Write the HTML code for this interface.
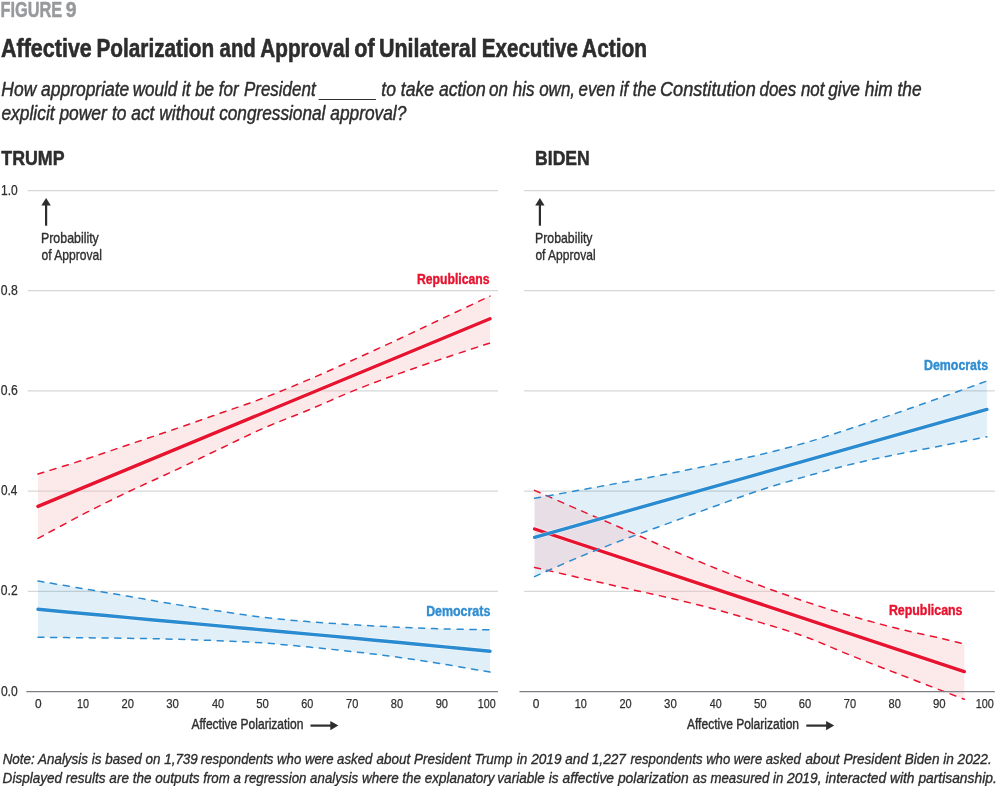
<!DOCTYPE html>
<html lang="en"><head><meta charset="utf-8"><title>Figure 9</title>
<style>html,body{margin:0;padding:0;background:#fff}svg{display:block}</style>
</head><body>
<svg width="1000" height="786" viewBox="0 0 1000 786" font-family="'Liberation Sans', sans-serif">
<rect width="1000" height="786" fill="#fff"/>
<line x1="27.7" x2="498" y1="190.5" y2="190.5" stroke="#d6d8d7" stroke-width="1.25"/>
<line x1="524.2" x2="994.8" y1="190.5" y2="190.5" stroke="#d6d8d7" stroke-width="1.25"/>
<line x1="27.7" x2="498" y1="290.7" y2="290.7" stroke="#d6d8d7" stroke-width="1.25"/>
<line x1="524.2" x2="994.8" y1="290.7" y2="290.7" stroke="#d6d8d7" stroke-width="1.25"/>
<line x1="27.7" x2="498" y1="390.9" y2="390.9" stroke="#d6d8d7" stroke-width="1.25"/>
<line x1="524.2" x2="994.8" y1="390.9" y2="390.9" stroke="#d6d8d7" stroke-width="1.25"/>
<line x1="27.7" x2="498" y1="491.1" y2="491.1" stroke="#d6d8d7" stroke-width="1.25"/>
<line x1="524.2" x2="994.8" y1="491.1" y2="491.1" stroke="#d6d8d7" stroke-width="1.25"/>
<line x1="27.7" x2="498" y1="591.3" y2="591.3" stroke="#d6d8d7" stroke-width="1.25"/>
<line x1="524.2" x2="994.8" y1="591.3" y2="591.3" stroke="#d6d8d7" stroke-width="1.25"/>
<path d="M38.00 581.00 C45.53 582.28 68.13 586.15 83.20 588.70 C98.27 591.25 113.33 593.73 128.40 596.30 C143.47 598.87 158.53 601.65 173.60 604.10 C188.67 606.55 203.73 608.78 218.80 611.00 C233.87 613.22 248.93 615.62 264.00 617.40 C279.07 619.18 294.13 620.47 309.20 621.70 C324.27 622.93 339.33 623.88 354.40 624.80 C369.47 625.72 384.53 626.52 399.60 627.20 C414.67 627.88 429.73 628.47 444.80 628.90 C459.87 629.33 482.47 629.65 490.00 629.80 L490.00 672.10 C482.47 670.82 459.87 666.85 444.80 664.40 C429.73 661.95 414.67 659.50 399.60 657.40 C384.53 655.30 369.47 653.52 354.40 651.80 C339.33 650.08 324.27 648.57 309.20 647.10 C294.13 645.63 279.07 644.07 264.00 643.00 C248.93 641.93 233.87 641.33 218.80 640.70 C203.73 640.07 188.67 639.60 173.60 639.20 C158.53 638.80 143.47 638.53 128.40 638.30 C113.33 638.07 98.27 637.97 83.20 637.80 C68.13 637.63 45.53 637.38 38.00 637.30 Z" fill="#2b8bd0" fill-opacity="0.14"/>
<path d="M38.00 474.00 C45.53 471.67 68.13 464.88 83.20 460.00 C98.27 455.12 113.33 449.78 128.40 444.70 C143.47 439.62 158.53 434.65 173.60 429.50 C188.67 424.35 203.73 419.08 218.80 413.80 C233.87 408.52 248.93 403.53 264.00 397.80 C279.07 392.07 294.13 385.80 309.20 379.40 C324.27 373.00 339.33 366.18 354.40 359.40 C369.47 352.62 384.53 345.70 399.60 338.70 C414.67 331.70 429.73 324.50 444.80 317.40 C459.87 310.30 482.47 299.65 490.00 296.10 L490.00 343.00 C482.47 345.48 459.87 352.83 444.80 357.90 C429.73 362.97 414.67 367.98 399.60 373.40 C384.53 378.82 369.47 384.35 354.40 390.40 C339.33 396.45 324.27 403.43 309.20 409.70 C294.13 415.97 279.07 421.38 264.00 428.00 C248.93 434.62 233.87 442.23 218.80 449.40 C203.73 456.57 188.67 463.93 173.60 471.00 C158.53 478.07 143.47 484.60 128.40 491.80 C113.33 499.00 98.27 506.43 83.20 514.20 C68.13 521.97 45.53 534.37 38.00 538.40 Z" fill="#f6bcbf" fill-opacity="0.33"/>
<path d="M534.60 498.30 C542.14 496.93 564.75 492.83 579.83 490.10 C594.91 487.37 609.98 484.68 625.06 481.90 C640.14 479.12 655.21 476.37 670.29 473.40 C685.37 470.43 700.44 467.25 715.52 464.10 C730.60 460.95 745.67 458.08 760.75 454.50 C775.83 450.92 790.90 446.97 805.98 442.60 C821.06 438.23 836.13 433.22 851.21 428.30 C866.29 423.38 881.36 418.28 896.44 413.10 C911.52 407.92 926.59 402.55 941.67 397.20 C956.75 391.85 979.36 383.70 986.90 381.00 L986.90 436.70 C979.36 438.22 956.75 442.85 941.67 445.80 C926.59 448.75 911.52 451.32 896.44 454.40 C881.36 457.48 866.29 460.63 851.21 464.30 C836.13 467.97 821.06 472.12 805.98 476.40 C790.90 480.68 775.83 485.07 760.75 490.00 C745.67 494.93 730.60 500.57 715.52 506.00 C700.44 511.43 685.37 517.08 670.29 522.60 C655.21 528.12 640.14 533.40 625.06 539.10 C609.98 544.80 594.91 550.55 579.83 556.80 C564.75 563.05 542.14 573.30 534.60 576.60 Z" fill="#2b8bd0" fill-opacity="0.14"/>
<path d="M534.60 490.40 C542.14 493.70 564.75 503.67 579.83 510.20 C594.91 516.73 609.98 523.05 625.06 529.60 C640.14 536.15 655.21 543.07 670.29 549.50 C685.37 555.93 700.44 562.15 715.52 568.20 C730.60 574.25 745.67 580.20 760.75 585.80 C775.83 591.40 790.90 596.77 805.98 601.80 C821.06 606.83 836.13 611.60 851.21 616.00 C866.29 620.40 881.36 624.45 896.44 628.20 C911.52 631.95 930.36 635.88 941.67 638.50 C952.98 641.12 960.52 643.00 964.28 643.90 L964.28 699.30 C960.52 697.85 952.98 694.95 941.67 690.60 C930.36 686.25 911.52 679.03 896.44 673.20 C881.36 667.37 866.29 661.63 851.21 655.60 C836.13 649.57 821.06 642.50 805.98 637.00 C790.90 631.50 775.83 627.20 760.75 622.60 C745.67 618.00 730.60 613.48 715.52 609.40 C700.44 605.32 685.37 601.65 670.29 598.10 C655.21 594.55 640.14 591.48 625.06 588.10 C609.98 584.72 594.91 581.25 579.83 577.80 C564.75 574.35 542.14 569.13 534.60 567.40 Z" fill="#f6bcbf" fill-opacity="0.33"/>
<path d="M38.00 474.00 C45.53 471.67 68.13 464.88 83.20 460.00 C98.27 455.12 113.33 449.78 128.40 444.70 C143.47 439.62 158.53 434.65 173.60 429.50 C188.67 424.35 203.73 419.08 218.80 413.80 C233.87 408.52 248.93 403.53 264.00 397.80 C279.07 392.07 294.13 385.80 309.20 379.40 C324.27 373.00 339.33 366.18 354.40 359.40 C369.47 352.62 384.53 345.70 399.60 338.70 C414.67 331.70 429.73 324.50 444.80 317.40 C459.87 310.30 482.47 299.65 490.00 296.10" stroke="#e8132f" stroke-width="1.5" stroke-dasharray="6.1 6.7" stroke-linecap="round" fill="none"/>
<path d="M38.00 538.40 C45.53 534.37 68.13 521.97 83.20 514.20 C98.27 506.43 113.33 499.00 128.40 491.80 C143.47 484.60 158.53 478.07 173.60 471.00 C188.67 463.93 203.73 456.57 218.80 449.40 C233.87 442.23 248.93 434.62 264.00 428.00 C279.07 421.38 294.13 415.97 309.20 409.70 C324.27 403.43 339.33 396.45 354.40 390.40 C369.47 384.35 384.53 378.82 399.60 373.40 C414.67 367.98 429.73 362.97 444.80 357.90 C459.87 352.83 482.47 345.48 490.00 343.00" stroke="#e8132f" stroke-width="1.5" stroke-dasharray="6.1 6.7" stroke-linecap="round" fill="none"/>
<path d="M38.00 506.40 L490.00 318.80" stroke="#fff" stroke-opacity="0.55" stroke-width="4.8" stroke-linecap="round" fill="none"/>
<path d="M38.00 506.40 L490.00 318.80" stroke="#e8132f" stroke-width="3.4" stroke-linecap="round" fill="none"/>
<path d="M38.00 581.00 C45.53 582.28 68.13 586.15 83.20 588.70 C98.27 591.25 113.33 593.73 128.40 596.30 C143.47 598.87 158.53 601.65 173.60 604.10 C188.67 606.55 203.73 608.78 218.80 611.00 C233.87 613.22 248.93 615.62 264.00 617.40 C279.07 619.18 294.13 620.47 309.20 621.70 C324.27 622.93 339.33 623.88 354.40 624.80 C369.47 625.72 384.53 626.52 399.60 627.20 C414.67 627.88 429.73 628.47 444.80 628.90 C459.87 629.33 482.47 629.65 490.00 629.80" stroke="#2b8bd0" stroke-width="1.5" stroke-dasharray="6.1 6.7" stroke-linecap="round" fill="none"/>
<path d="M38.00 637.30 C45.53 637.38 68.13 637.63 83.20 637.80 C98.27 637.97 113.33 638.07 128.40 638.30 C143.47 638.53 158.53 638.80 173.60 639.20 C188.67 639.60 203.73 640.07 218.80 640.70 C233.87 641.33 248.93 641.93 264.00 643.00 C279.07 644.07 294.13 645.63 309.20 647.10 C324.27 648.57 339.33 650.08 354.40 651.80 C369.47 653.52 384.53 655.30 399.60 657.40 C414.67 659.50 429.73 661.95 444.80 664.40 C459.87 666.85 482.47 670.82 490.00 672.10" stroke="#2b8bd0" stroke-width="1.5" stroke-dasharray="6.1 6.7" stroke-linecap="round" fill="none"/>
<path d="M38.00 609.30 C45.53 610.00 68.13 612.12 83.20 613.50 C98.27 614.88 113.33 616.22 128.40 617.60 C143.47 618.98 158.53 620.42 173.60 621.80 C188.67 623.18 203.73 624.53 218.80 625.90 C233.87 627.27 248.93 628.63 264.00 630.00 C279.07 631.37 294.13 632.72 309.20 634.10 C324.27 635.48 339.33 636.90 354.40 638.30 C369.47 639.70 384.53 641.07 399.60 642.50 C414.67 643.93 429.73 645.45 444.80 646.90 C459.87 648.35 482.47 650.48 490.00 651.20" stroke="#fff" stroke-opacity="0.55" stroke-width="4.8" stroke-linecap="round" fill="none"/>
<path d="M38.00 609.30 C45.53 610.00 68.13 612.12 83.20 613.50 C98.27 614.88 113.33 616.22 128.40 617.60 C143.47 618.98 158.53 620.42 173.60 621.80 C188.67 623.18 203.73 624.53 218.80 625.90 C233.87 627.27 248.93 628.63 264.00 630.00 C279.07 631.37 294.13 632.72 309.20 634.10 C324.27 635.48 339.33 636.90 354.40 638.30 C369.47 639.70 384.53 641.07 399.60 642.50 C414.67 643.93 429.73 645.45 444.80 646.90 C459.87 648.35 482.47 650.48 490.00 651.20" stroke="#2b8bd0" stroke-width="3.4" stroke-linecap="round" fill="none"/>
<path d="M534.60 490.40 C542.14 493.70 564.75 503.67 579.83 510.20 C594.91 516.73 609.98 523.05 625.06 529.60 C640.14 536.15 655.21 543.07 670.29 549.50 C685.37 555.93 700.44 562.15 715.52 568.20 C730.60 574.25 745.67 580.20 760.75 585.80 C775.83 591.40 790.90 596.77 805.98 601.80 C821.06 606.83 836.13 611.60 851.21 616.00 C866.29 620.40 881.36 624.45 896.44 628.20 C911.52 631.95 930.36 635.88 941.67 638.50 C952.98 641.12 960.52 643.00 964.28 643.90" stroke="#e8132f" stroke-width="1.5" stroke-dasharray="6.1 6.7" stroke-linecap="round" fill="none"/>
<path d="M534.60 567.40 C542.14 569.13 564.75 574.35 579.83 577.80 C594.91 581.25 609.98 584.72 625.06 588.10 C640.14 591.48 655.21 594.55 670.29 598.10 C685.37 601.65 700.44 605.32 715.52 609.40 C730.60 613.48 745.67 618.00 760.75 622.60 C775.83 627.20 790.90 631.50 805.98 637.00 C821.06 642.50 836.13 649.57 851.21 655.60 C866.29 661.63 881.36 667.37 896.44 673.20 C911.52 679.03 930.36 686.25 941.67 690.60 C952.98 694.95 960.52 697.85 964.28 699.30" stroke="#e8132f" stroke-width="1.5" stroke-dasharray="6.1 6.7" stroke-linecap="round" fill="none"/>
<path d="M534.60 529.00 L964.28 671.60" stroke="#fff" stroke-opacity="0.55" stroke-width="4.8" stroke-linecap="round" fill="none"/>
<path d="M534.60 529.00 L964.28 671.60" stroke="#e8132f" stroke-width="3.4" stroke-linecap="round" fill="none"/>
<path d="M534.60 498.30 C542.14 496.93 564.75 492.83 579.83 490.10 C594.91 487.37 609.98 484.68 625.06 481.90 C640.14 479.12 655.21 476.37 670.29 473.40 C685.37 470.43 700.44 467.25 715.52 464.10 C730.60 460.95 745.67 458.08 760.75 454.50 C775.83 450.92 790.90 446.97 805.98 442.60 C821.06 438.23 836.13 433.22 851.21 428.30 C866.29 423.38 881.36 418.28 896.44 413.10 C911.52 407.92 926.59 402.55 941.67 397.20 C956.75 391.85 979.36 383.70 986.90 381.00" stroke="#2b8bd0" stroke-width="1.5" stroke-dasharray="6.1 6.7" stroke-linecap="round" fill="none"/>
<path d="M534.60 576.60 C542.14 573.30 564.75 563.05 579.83 556.80 C594.91 550.55 609.98 544.80 625.06 539.10 C640.14 533.40 655.21 528.12 670.29 522.60 C685.37 517.08 700.44 511.43 715.52 506.00 C730.60 500.57 745.67 494.93 760.75 490.00 C775.83 485.07 790.90 480.68 805.98 476.40 C821.06 472.12 836.13 467.97 851.21 464.30 C866.29 460.63 881.36 457.48 896.44 454.40 C911.52 451.32 926.59 448.75 941.67 445.80 C956.75 442.85 979.36 438.22 986.90 436.70" stroke="#2b8bd0" stroke-width="1.5" stroke-dasharray="6.1 6.7" stroke-linecap="round" fill="none"/>
<path d="M534.60 537.30 L986.90 409.40" stroke="#fff" stroke-opacity="0.55" stroke-width="4.8" stroke-linecap="round" fill="none"/>
<path d="M534.60 537.30 L986.90 409.40" stroke="#2b8bd0" stroke-width="3.4" stroke-linecap="round" fill="none"/>
<line x1="26.3" x2="498" y1="691.5" y2="691.5" stroke="#7d7f83" stroke-width="1.25"/>
<line x1="519.5" x2="994.8" y1="691.5" y2="691.5" stroke="#7d7f83" stroke-width="1.25"/>
<text font-size="21.2" fill="#97999c" stroke="#97999c" stroke-width="0.5" stroke-linejoin="round" font-weight="bold"><tspan x="0.44" y="16.6" textLength="61.76" lengthAdjust="spacingAndGlyphs">FIGURE</tspan> <tspan x="65.73" y="16.6" textLength="10.82" lengthAdjust="spacingAndGlyphs">9</tspan></text>
<text font-size="25.6" fill="#2d2d2d" stroke="#2d2d2d" stroke-width="0.6" stroke-linejoin="round" font-weight="bold"><tspan x="0.92" y="56.7" textLength="90.94" lengthAdjust="spacingAndGlyphs">Affective</tspan> <tspan x="96.44" y="56.7" textLength="117.76" lengthAdjust="spacingAndGlyphs">Polarization</tspan> <tspan x="219.6" y="56.7" textLength="36.19" lengthAdjust="spacingAndGlyphs">and</tspan> <tspan x="260.31" y="56.7" textLength="89.9" lengthAdjust="spacingAndGlyphs">Approval</tspan> <tspan x="354.34" y="56.7" textLength="20.34" lengthAdjust="spacingAndGlyphs">of</tspan> <tspan x="378.92" y="56.7" textLength="97.77" lengthAdjust="spacingAndGlyphs">Unilateral</tspan> <tspan x="481.83" y="56.7" textLength="96.01" lengthAdjust="spacingAndGlyphs">Executive</tspan> <tspan x="582.04" y="56.7" textLength="65.05" lengthAdjust="spacingAndGlyphs">Action</tspan></text>
<text font-size="19.7" fill="#2d2d2d" stroke="#2d2d2d" stroke-width="0.45" stroke-linejoin="round" font-style="italic"><tspan x="1.36" y="96" textLength="127.92" lengthAdjust="spacingAndGlyphs">How appropriate</tspan> <tspan x="132.79" y="96" textLength="105.83" lengthAdjust="spacingAndGlyphs">would it be for</tspan> <tspan x="243.98" y="96" textLength="71.64" lengthAdjust="spacingAndGlyphs">President</tspan> <tspan x="381.3" y="96" textLength="104.46" lengthAdjust="spacingAndGlyphs">to take action</tspan> <tspan x="489.04" y="96" textLength="86.03" lengthAdjust="spacingAndGlyphs">on his own,</tspan> <tspan x="578.56" y="96" textLength="77.72" lengthAdjust="spacingAndGlyphs">even if the</tspan> <tspan x="659.98" y="96" textLength="95.81" lengthAdjust="spacingAndGlyphs">Constitution</tspan> <tspan x="759.58" y="96" textLength="64.8" lengthAdjust="spacingAndGlyphs">does not</tspan> <tspan x="828.2" y="96" textLength="93.37" lengthAdjust="spacingAndGlyphs">give him the</tspan> <tspan x="1.42" y="120" textLength="105.41" lengthAdjust="spacingAndGlyphs">explicit power</tspan> <tspan x="111.98" y="120" textLength="102.34" lengthAdjust="spacingAndGlyphs">to act without</tspan> <tspan x="219.15" y="120" textLength="106.27" lengthAdjust="spacingAndGlyphs">congressional</tspan> <tspan x="330.33" y="120" textLength="76.01" lengthAdjust="spacingAndGlyphs">approval?</tspan></text>
<text x="1.35" y="164.7" font-size="20.4" fill="#2d2d2d" stroke="#2d2d2d" stroke-width="0.5" stroke-linejoin="round" font-weight="bold" textLength="63.17" lengthAdjust="spacingAndGlyphs">TRUMP</text>
<text x="535.09" y="164.7" font-size="20.4" fill="#2d2d2d" stroke="#2d2d2d" stroke-width="0.5" stroke-linejoin="round" font-weight="bold" textLength="54.74" lengthAdjust="spacingAndGlyphs">BIDEN</text>
<text x="1.0" y="194.5" font-size="13.8" fill="#2f2f2f" stroke="#2f2f2f" stroke-width="0.25" stroke-linejoin="round" textLength="16.7" lengthAdjust="spacingAndGlyphs">1.0</text>
<text x="0.86" y="294.7" font-size="13.8" fill="#2f2f2f" stroke="#2f2f2f" stroke-width="0.25" stroke-linejoin="round" textLength="16.95" lengthAdjust="spacingAndGlyphs">0.8</text>
<text x="0.86" y="394.9" font-size="13.8" fill="#2f2f2f" stroke="#2f2f2f" stroke-width="0.25" stroke-linejoin="round" textLength="16.94" lengthAdjust="spacingAndGlyphs">0.6</text>
<text x="0.9" y="495.1" font-size="13.8" fill="#2f2f2f" stroke="#2f2f2f" stroke-width="0.25" stroke-linejoin="round" textLength="16.44" lengthAdjust="spacingAndGlyphs">0.4</text>
<text x="0.87" y="595.3" font-size="13.8" fill="#2f2f2f" stroke="#2f2f2f" stroke-width="0.25" stroke-linejoin="round" textLength="16.8" lengthAdjust="spacingAndGlyphs">0.2</text>
<text x="0.88" y="695.5" font-size="13.8" fill="#2f2f2f" stroke="#2f2f2f" stroke-width="0.25" stroke-linejoin="round" textLength="16.82" lengthAdjust="spacingAndGlyphs">0.0</text>
<text x="35.01" y="707.8" font-size="12.9" fill="#2f2f2f" stroke="#2f2f2f" stroke-width="0.25" stroke-linejoin="round" textLength="6.61" lengthAdjust="spacingAndGlyphs">0</text>
<text x="532.63" y="707.8" font-size="12.9" fill="#2f2f2f" stroke="#2f2f2f" stroke-width="0.25" stroke-linejoin="round" textLength="6.64" lengthAdjust="spacingAndGlyphs">0</text>
<text x="77.07" y="707.8" font-size="12.9" fill="#2f2f2f" stroke="#2f2f2f" stroke-width="0.25" stroke-linejoin="round" textLength="12.02" lengthAdjust="spacingAndGlyphs">10</text>
<text x="574.77" y="707.8" font-size="12.9" fill="#2f2f2f" stroke="#2f2f2f" stroke-width="0.25" stroke-linejoin="round" textLength="12.07" lengthAdjust="spacingAndGlyphs">10</text>
<text x="121.6" y="707.8" font-size="12.9" fill="#2f2f2f" stroke="#2f2f2f" stroke-width="0.25" stroke-linejoin="round" textLength="12.43" lengthAdjust="spacingAndGlyphs">20</text>
<text x="619.52" y="707.8" font-size="12.9" fill="#2f2f2f" stroke="#2f2f2f" stroke-width="0.25" stroke-linejoin="round" textLength="12.21" lengthAdjust="spacingAndGlyphs">20</text>
<text x="166.23" y="707.8" font-size="12.9" fill="#2f2f2f" stroke="#2f2f2f" stroke-width="0.25" stroke-linejoin="round" textLength="12.72" lengthAdjust="spacingAndGlyphs">30</text>
<text x="664.03" y="707.8" font-size="12.9" fill="#2f2f2f" stroke="#2f2f2f" stroke-width="0.25" stroke-linejoin="round" textLength="12.73" lengthAdjust="spacingAndGlyphs">30</text>
<text x="211.9" y="707.8" font-size="12.9" fill="#2f2f2f" stroke="#2f2f2f" stroke-width="0.25" stroke-linejoin="round" textLength="12.15" lengthAdjust="spacingAndGlyphs">40</text>
<text x="709.7" y="707.8" font-size="12.9" fill="#2f2f2f" stroke="#2f2f2f" stroke-width="0.25" stroke-linejoin="round" textLength="11.91" lengthAdjust="spacingAndGlyphs">40</text>
<text x="256.17" y="707.8" font-size="12.9" fill="#2f2f2f" stroke="#2f2f2f" stroke-width="0.25" stroke-linejoin="round" textLength="12.58" lengthAdjust="spacingAndGlyphs">50</text>
<text x="753.88" y="707.8" font-size="12.9" fill="#2f2f2f" stroke="#2f2f2f" stroke-width="0.25" stroke-linejoin="round" textLength="12.72" lengthAdjust="spacingAndGlyphs">50</text>
<text x="301.21" y="707.8" font-size="12.9" fill="#2f2f2f" stroke="#2f2f2f" stroke-width="0.25" stroke-linejoin="round" textLength="12.04" lengthAdjust="spacingAndGlyphs">60</text>
<text x="798.84" y="707.8" font-size="12.9" fill="#2f2f2f" stroke="#2f2f2f" stroke-width="0.25" stroke-linejoin="round" textLength="12.41" lengthAdjust="spacingAndGlyphs">60</text>
<text x="346.1" y="707.8" font-size="12.9" fill="#2f2f2f" stroke="#2f2f2f" stroke-width="0.25" stroke-linejoin="round" textLength="12.19" lengthAdjust="spacingAndGlyphs">70</text>
<text x="843.78" y="707.8" font-size="12.9" fill="#2f2f2f" stroke="#2f2f2f" stroke-width="0.25" stroke-linejoin="round" textLength="12.26" lengthAdjust="spacingAndGlyphs">70</text>
<text x="390.79" y="707.8" font-size="12.9" fill="#2f2f2f" stroke="#2f2f2f" stroke-width="0.25" stroke-linejoin="round" textLength="12.25" lengthAdjust="spacingAndGlyphs">80</text>
<text x="888.5" y="707.8" font-size="12.9" fill="#2f2f2f" stroke="#2f2f2f" stroke-width="0.25" stroke-linejoin="round" textLength="12.31" lengthAdjust="spacingAndGlyphs">80</text>
<text x="435.67" y="707.8" font-size="12.9" fill="#2f2f2f" stroke="#2f2f2f" stroke-width="0.25" stroke-linejoin="round" textLength="12.32" lengthAdjust="spacingAndGlyphs">90</text>
<text x="933.06" y="707.8" font-size="12.9" fill="#2f2f2f" stroke="#2f2f2f" stroke-width="0.25" stroke-linejoin="round" textLength="12.65" lengthAdjust="spacingAndGlyphs">90</text>
<text x="477.86" y="707.8" font-size="12.9" fill="#2f2f2f" stroke="#2f2f2f" stroke-width="0.25" stroke-linejoin="round" textLength="17.78" lengthAdjust="spacingAndGlyphs">100</text>
<text x="975.64" y="707.8" font-size="12.9" fill="#2f2f2f" stroke="#2f2f2f" stroke-width="0.25" stroke-linejoin="round" textLength="18.08" lengthAdjust="spacingAndGlyphs">100</text>
<text x="191.45" y="729.3" font-size="13.8" fill="#2f2f2f" stroke="#2f2f2f" stroke-width="0.4" stroke-linejoin="round" textLength="111.93" lengthAdjust="spacingAndGlyphs">Affective Polarization</text>
<text x="686.97" y="729.3" font-size="13.8" fill="#2f2f2f" stroke="#2f2f2f" stroke-width="0.4" stroke-linejoin="round" textLength="112.1" lengthAdjust="spacingAndGlyphs">Affective Polarization</text>
<text x="40.98" y="243.4" font-size="14.2" fill="#2f2f2f" stroke="#2f2f2f" stroke-width="0.35" stroke-linejoin="round" textLength="57.84" lengthAdjust="spacingAndGlyphs">Probability</text>
<text x="41.55" y="260.0" font-size="14.2" fill="#2f2f2f" stroke="#2f2f2f" stroke-width="0.35" stroke-linejoin="round" textLength="60.45" lengthAdjust="spacingAndGlyphs">of Approval</text>
<text x="535.04" y="243.4" font-size="14.2" fill="#2f2f2f" stroke="#2f2f2f" stroke-width="0.35" stroke-linejoin="round" textLength="57.44" lengthAdjust="spacingAndGlyphs">Probability</text>
<text x="535.38" y="260.0" font-size="14.2" fill="#2f2f2f" stroke="#2f2f2f" stroke-width="0.35" stroke-linejoin="round" textLength="60.24" lengthAdjust="spacingAndGlyphs">of Approval</text>
<text x="416.97" y="283.5" font-size="14.3" fill="#e8132f" stroke="#e8132f" stroke-width="0.4" stroke-linejoin="round" font-weight="bold" textLength="72.58" lengthAdjust="spacingAndGlyphs">Republicans</text>
<text x="426.14" y="616.1" font-size="14.3" fill="#2f8dd1" stroke="#2f8dd1" stroke-width="0.4" stroke-linejoin="round" font-weight="bold" textLength="64.18" lengthAdjust="spacingAndGlyphs">Democrats</text>
<text x="923.94" y="369.7" font-size="14.3" fill="#2f8dd1" stroke="#2f8dd1" stroke-width="0.4" stroke-linejoin="round" font-weight="bold" textLength="64.1" lengthAdjust="spacingAndGlyphs">Democrats</text>
<text x="888.95" y="614.6" font-size="14.3" fill="#e8132f" stroke="#e8132f" stroke-width="0.4" stroke-linejoin="round" font-weight="bold" textLength="73.49" lengthAdjust="spacingAndGlyphs">Republicans</text>
<text font-size="14.6" fill="#2d2d2d" stroke="#2d2d2d" stroke-width="0.35" stroke-linejoin="round" font-style="italic"><tspan x="2.64" y="763.7" textLength="195.19" lengthAdjust="spacingAndGlyphs">Note: Analysis is based on 1,739</tspan> <tspan x="200.83" y="763.7" textLength="171.48" lengthAdjust="spacingAndGlyphs">respondents who were asked</tspan> <tspan x="376.55" y="763.7" textLength="135.85" lengthAdjust="spacingAndGlyphs">about President Trump</tspan> <tspan x="516.84" y="763.7" textLength="109.05" lengthAdjust="spacingAndGlyphs">in 2019 and 1,227</tspan> <tspan x="630.43" y="763.7" textLength="170.35" lengthAdjust="spacingAndGlyphs">respondents who were asked</tspan> <tspan x="805.55" y="763.7" textLength="186.14" lengthAdjust="spacingAndGlyphs">about President Biden in 2022.</tspan> <tspan x="2.62" y="783.2" textLength="196.99" lengthAdjust="spacingAndGlyphs">Displayed results are the outputs</tspan> <tspan x="203.26" y="783.2" textLength="154.8" lengthAdjust="spacingAndGlyphs">from a regression analysis</tspan> <tspan x="361.97" y="783.2" textLength="132.42" lengthAdjust="spacingAndGlyphs">where the explanatory</tspan> <tspan x="497.34" y="783.2" textLength="61.11" lengthAdjust="spacingAndGlyphs">variable is</tspan> <tspan x="562.43" y="783.2" textLength="126.37" lengthAdjust="spacingAndGlyphs">affective polarization</tspan> <tspan x="692.83" y="783.2" textLength="90.5" lengthAdjust="spacingAndGlyphs">as measured in</tspan> <tspan x="787.0" y="783.2" textLength="209.75" lengthAdjust="spacingAndGlyphs">2019, interacted with partisanship.</tspan></text>
<line x1="318.6" x2="375.9" y1="99.5" y2="99.5" stroke="#30302e" stroke-width="1"/>
<line x1="310.5" x2="332.4" y1="725.6" y2="725.6" stroke="#2d2d2d" stroke-width="2.2"/>
<path d="M338.4 725.6 L330.3 721.0 L330.3 730.2 Z" fill="#2d2d2d"/>
<line x1="806.3" x2="828.2" y1="725.6" y2="725.6" stroke="#2d2d2d" stroke-width="2.2"/>
<path d="M834.2 725.6 L826.1 721.0 L826.1 730.2 Z" fill="#2d2d2d"/>
<line x1="46.1" x2="46.1" y1="204.5" y2="225.7" stroke="#2d2d2d" stroke-width="2.2"/>
<path d="M46.1 198 L41.4 205.6 L50.8 205.6 Z" fill="#2d2d2d"/>
<line x1="539.9" x2="539.9" y1="204.5" y2="225.7" stroke="#2d2d2d" stroke-width="2.2"/>
<path d="M539.9 198 L535.2 205.6 L544.6 205.6 Z" fill="#2d2d2d"/>
</svg>
</body></html>
